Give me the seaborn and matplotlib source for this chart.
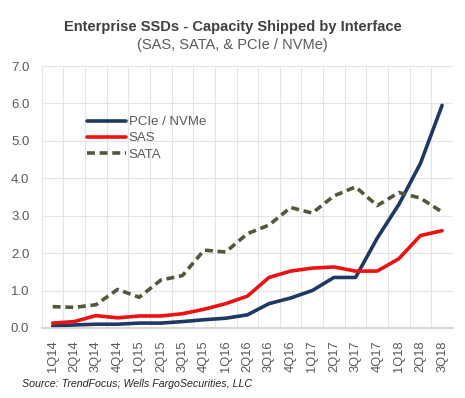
import pandas as pd
import numpy as np
import seaborn as sns
import matplotlib.pyplot as plt

quarters = ['1Q14','2Q14','3Q14','4Q14','1Q15','2Q15','3Q15','4Q15','1Q16','2Q16',
            '3Q16','4Q16','1Q17','2Q17','3Q17','4Q17','1Q18','2Q18','3Q18']
pcie = [0.05,0.08,0.10,0.10,0.13,0.13,0.17,0.22,0.26,0.35,
        0.65,0.80,1.00,1.35,1.35,2.40,3.30,4.40,5.95]
sas = [0.13,0.17,0.33,0.27,0.32,0.32,0.38,0.50,0.65,0.85,
       1.35,1.52,1.60,1.63,1.52,1.52,1.85,2.47,2.60]
sata = [0.57,0.55,0.62,1.03,0.82,1.28,1.40,2.08,2.03,2.52,
        2.75,3.22,3.07,3.53,3.77,3.27,3.62,3.47,3.10]
series_names = ['PCIe / NVMe','SAS','SATA']

df = pd.DataFrame({'quarter': quarters*3,
                   'value': pcie+sas+sata,
                   'series': np.repeat(series_names, len(quarters))})

sns.set_theme(style='white')
plt.rcParams['font.family'] = ['Liberation Sans', 'DejaVu Sans']

fig = plt.figure(figsize=(4.65, 3.98), dpi=100)
ax = fig.add_axes([0.09, 0.176, 0.884, 0.658])

palette = {'PCIe / NVMe':'#1f3864','SAS':'#ee1111','SATA':'#4f5a3a'}
dashes = {'PCIe / NVMe':'','SAS':'','SATA':(2.2,1.3)}
sns.lineplot(data=df, x='quarter', y='value', hue='series', style='series',
             palette=palette, dashes=dashes, sort=False, linewidth=2.6, ax=ax)

ax.set_xlim(-0.5, len(quarters)-0.5)
ax.set_ylim(0, 7)
ax.set_yticks(np.arange(0, 7.1, 1.0))
ax.set_yticklabels(['%.1f' % v for v in np.arange(0, 7.1, 1.0)])
ax.set_xticks(range(len(quarters)))
ax.set_xticklabels(quarters, rotation=90)
ax.set_xticks(np.arange(-0.5, len(quarters), 1.0), minor=True)
ax.grid(axis='y', which='major', color='#e4e4e4', lw=0.8)
ax.grid(axis='x', which='minor', color='#e4e4e4', lw=0.8)
ax.tick_params(axis='both', which='both', length=0, labelcolor='#595959')
ax.tick_params(axis='y', labelsize=9.5, pad=9)
ax.tick_params(axis='x', labelsize=9.3, pad=9)
ax.set_xlabel('')
ax.set_ylabel('')
for s in ['top','right','left']:
    ax.spines[s].set_visible(False)
ax.spines['bottom'].set_color('#d0d0d0')
ax.spines['bottom'].set_linewidth(1.2)

leg = ax.legend(loc='upper left', bbox_to_anchor=(0.08, 0.855), frameon=False,
                fontsize=9.5, handlelength=3.0, handletextpad=0.2, labelspacing=0.3)
for t in leg.get_texts():
    t.set_color('#595959')

fig.text(0.5, 0.932, 'Enterprise SSDs - Capacity Shipped by Interface', ha='center',
         va='center', fontsize=10.5, fontweight='bold', color='#404040')
fig.text(0.5, 0.886, '(SAS, SATA, & PCIe / NVMe)', ha='center', va='center',
         fontsize=10.5, color='#595959')
fig.text(0.047, 0.036, 'Source: TrendFocus; Wells FargoSecurities, LLC', ha='left',
         va='center', fontsize=7.7, style='italic', color='#262626')

fig.savefig('out.png', dpi=100)
